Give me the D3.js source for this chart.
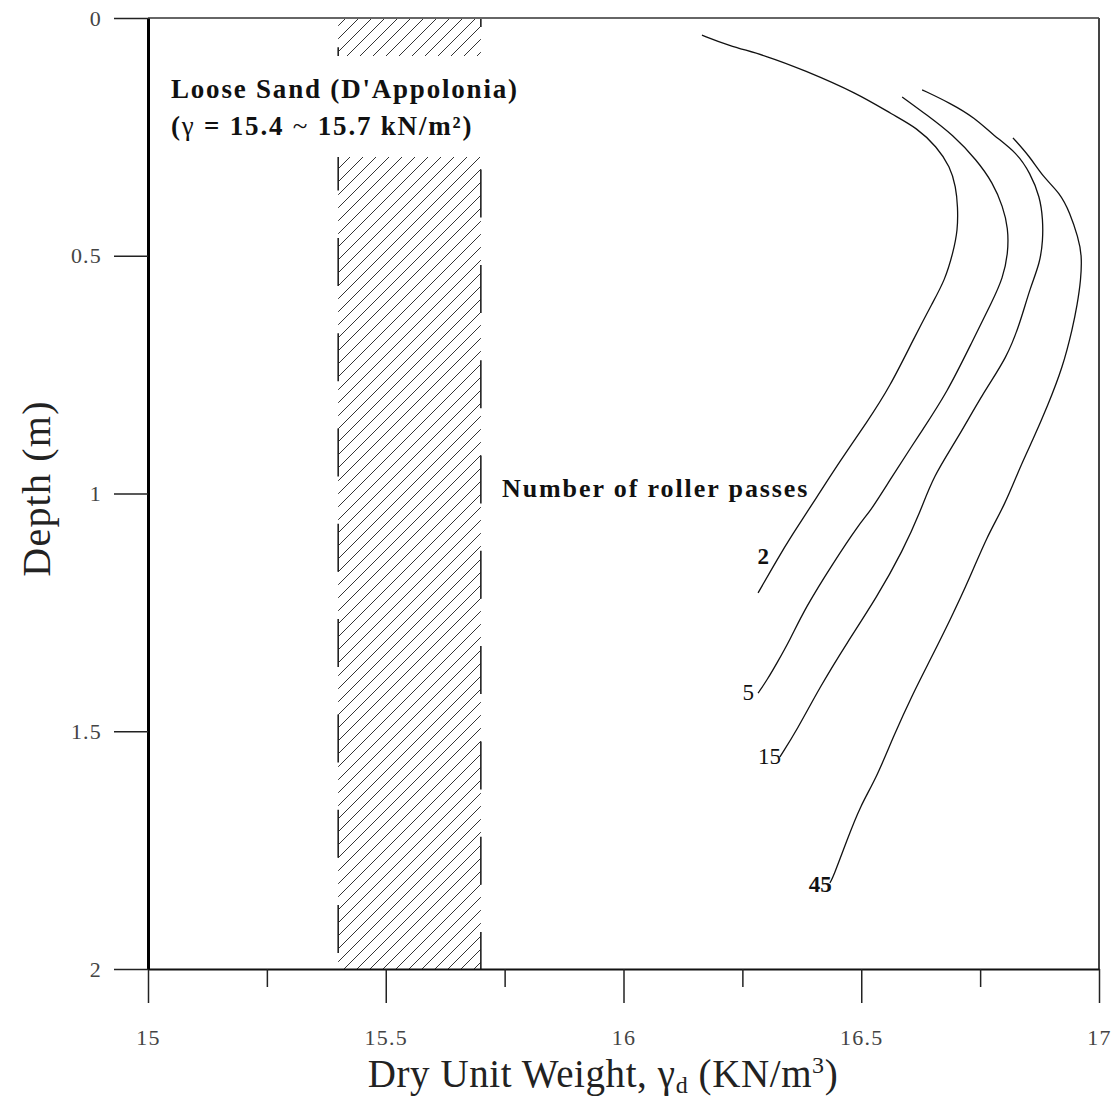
<!DOCTYPE html>
<html>
<head>
<meta charset="utf-8">
<script src="https://cdn.jsdelivr.net/npm/d3@7"></script>
<style>
  html, body { margin: 0; padding: 0; background: #fff; }
  svg { display: block; }
</style>
</head>
<body>
<svg id="chart" width="1118" height="1101"></svg>
<script>
// ---------- data ----------
const xTicksMajor = [15, 15.5, 16, 16.5, 17];
const xTicksMinor = [15.25, 15.75, 16.25, 16.75];
const yTicks = [0, 0.5, 1, 1.5, 2];
const bandRange = [15.4, 15.7];            // loose sand range (kN/m3)

const passes = ["2", "5", "15", "45"];
// [dry unit weight, depth]
const curve2 = [[16.165,0.036],[16.218,0.057],[16.302,0.080],[16.378,0.109],[16.491,0.158],[16.567,0.204],[16.617,0.231],[16.659,0.271],[16.687,0.313],[16.699,0.355],[16.703,0.397],[16.703,0.446],[16.693,0.494],[16.676,0.551],[16.651,0.597],[16.609,0.677],[16.560,0.776],[16.512,0.850],[16.455,0.932],[16.407,1.007],[16.350,1.094],[16.325,1.136],[16.283,1.209]];
const curve5 = [[16.586,0.166],[16.638,0.204],[16.693,0.246],[16.743,0.299],[16.777,0.347],[16.798,0.397],[16.809,0.442],[16.809,0.494],[16.798,0.547],[16.775,0.597],[16.735,0.677],[16.680,0.789],[16.624,0.873],[16.560,0.972],[16.518,1.039],[16.497,1.062],[16.441,1.146],[16.382,1.241],[16.350,1.308],[16.323,1.356],[16.302,1.392],[16.283,1.420]];
const curve15 = [[16.628,0.151],[16.687,0.179],[16.739,0.210],[16.777,0.246],[16.828,0.284],[16.855,0.326],[16.876,0.376],[16.882,0.425],[16.882,0.467],[16.876,0.515],[16.855,0.568],[16.834,0.641],[16.807,0.713],[16.756,0.789],[16.701,0.887],[16.651,0.965],[16.624,1.039],[16.588,1.119],[16.533,1.218],[16.470,1.314],[16.413,1.407],[16.365,1.497],[16.329,1.554]];
const curve45 = [[16.819,0.252],[16.855,0.292],[16.882,0.334],[16.918,0.368],[16.939,0.410],[16.956,0.461],[16.964,0.498],[16.962,0.551],[16.954,0.604],[16.945,0.650],[16.924,0.734],[16.891,0.818],[16.861,0.887],[16.834,0.944],[16.802,1.024],[16.764,1.091],[16.729,1.176],[16.687,1.266],[16.645,1.350],[16.609,1.420],[16.567,1.512],[16.533,1.596],[16.497,1.659],[16.470,1.729],[16.441,1.807],[16.434,1.819]];
const curves = [curve2, curve5, curve15, curve45];

// ---------- layout ----------
const W = 1118, H = 1101;
const margin = {top: 18, right: 19, bottom: 132, left: 148};
const svg = d3.select("#chart");
const x = d3.scaleLinear().domain([15, 17]).range([margin.left, W - margin.right]);
const y = d3.scaleLinear().domain([0, 2]).range([margin.top, H - margin.bottom]);
const serif = "'Liberation Serif', 'DejaVu Serif', serif";

// hatch pattern
const defs = svg.append("defs");
const pat = defs.append("pattern").attr("id", "hatch")
  .attr("patternUnits", "userSpaceOnUse").attr("width", 13).attr("height", 13);
pat.append("path").attr("d", "M-2,2 L2,-2 M0,13 L13,0 M11,15 L15,11")
  .attr("stroke", "#333").attr("stroke-width", 1);

// band
const bx0 = x(bandRange[0]), bx1 = x(bandRange[1]);
svg.append("rect").attr("x", bx0).attr("y", y(0)).attr("width", bx1 - bx0)
  .attr("height", y(2) - y(0)).attr("fill", "url(#hatch)");
svg.append("line").attr("x1", bx0).attr("x2", bx0).attr("y1", y(0)).attr("y2", y(2))
  .attr("stroke", "#222").attr("stroke-width", 1.6)
  .attr("stroke-dasharray", "48 47.3").attr("stroke-dashoffset", 66);
svg.append("line").attr("x1", bx1).attr("x2", bx1).attr("y1", y(0)).attr("y2", y(2))
  .attr("stroke", "#222").attr("stroke-width", 1.6)
  .attr("stroke-dasharray", "48 47.3").attr("stroke-dashoffset", 39);

// annotation with white background
const ann = svg.append("g").attr("font-family", serif).attr("font-weight", "bold")
  .attr("font-size", 27).attr("fill", "#111").attr("letter-spacing", 1.8);
ann.append("text").attr("x", 171).attr("y", 98).text("Loose Sand (D'Appolonia)");
const t2 = ann.append("text").attr("x", 171).attr("y", 135);
t2.append("tspan").text("(");
t2.append("tspan").attr("font-weight", "normal").text("γ");
t2.append("tspan").text(" = 15.4 ");
t2.append("tspan").attr("font-weight", "normal").text("~");
t2.append("tspan").text(" 15.7 kN/m²)");
const bb = ann.node().getBBox();
svg.insert("rect", "g").attr("x", bb.x - 4).attr("y", 56)
  .attr("width", bb.width + 14).attr("height", 101).attr("fill", "#fff");

// frame top/right
svg.append("line").attr("x1", x(15)).attr("x2", x(17)).attr("y1", y(0)).attr("y2", y(0))
  .attr("stroke", "#666").attr("stroke-width", 2);
svg.append("line").attr("x1", x(17)).attr("x2", x(17)).attr("y1", y(0)).attr("y2", y(2))
  .attr("stroke", "#444").attr("stroke-width", 2);

// curves
const line = d3.line().x(d => x(d[0])).y(d => y(d[1])).curve(d3.curveBasis);
svg.append("g").selectAll("path").data(curves).join("path")
  .attr("d", line).attr("fill", "none").attr("stroke", "#111").attr("stroke-width", 1.3);

// curve labels
const labelWeight = ["bold", "normal", "normal", "bold"];
const labelDx = [9, -6, -1, 0];
const labelDy = [-36, 0, 0, 2];
svg.append("g").attr("font-family", serif).attr("font-size", 23).attr("fill", "#111")
  .attr("text-anchor", "end")
  .selectAll("text").data(curves).join("text")
  .attr("x", (d) => x(d[d.length - 1][0]) + 2)
  .attr("y", (d) => y(d[d.length - 1][1]) + 7)
  .attr("dx", (d, i) => labelDx[i])
  .attr("dy", (d, i) => labelDy[i])
  .attr("font-weight", (d, i) => labelWeight[i])
  .text((d, i) => passes[i]);

svg.append("text").attr("x", 502).attr("y", 497).attr("font-family", serif)
  .attr("font-weight", "bold").attr("font-size", 26).attr("letter-spacing", 1.9)
  .attr("fill", "#111").text("Number of roller passes");

// axes
const gx = svg.append("g").attr("transform", `translate(0,${y(2)})`)
  .call(d3.axisBottom(x).tickValues(xTicksMajor).tickSize(34).tickSizeOuter(0)
    .tickPadding(26).tickFormat(d3.format("")));
const gxm = svg.append("g").attr("transform", `translate(0,${y(2)})`)
  .call(d3.axisBottom(x).tickValues(xTicksMinor).tickSize(18).tickSizeOuter(0).tickFormat(""));
gxm.select(".domain").remove();
const gy = svg.append("g").attr("transform", `translate(${x(15)},0)`)
  .call(d3.axisLeft(y).tickValues(yTicks).tickSize(34).tickSizeOuter(0)
    .tickPadding(12).tickFormat(d3.format("")));

[gx, gxm, gy].forEach(g => {
  g.selectAll("text").attr("font-family", serif).attr("font-size", 22)
    .attr("fill", "#444").attr("letter-spacing", 1.2);
  g.selectAll(".tick line").attr("stroke", "#222").attr("stroke-width", 1.5);
});
gx.select(".domain").attr("stroke", "#111").attr("stroke-width", 2);
gy.select(".domain").attr("stroke", "#000").attr("stroke-width", 3);

// axis titles
const xt = svg.append("text").attr("x", 603).attr("y", 1087).attr("text-anchor", "middle")
  .attr("font-family", serif).attr("font-size", 39).attr("letter-spacing", 0.6).attr("fill", "#222");
xt.append("tspan").text("Dry Unit Weight, γ");
xt.append("tspan").attr("font-size", 24).attr("dy", 6).text("d");
xt.append("tspan").attr("dy", -6).text(" (KN/m");
xt.append("tspan").attr("font-size", 24).attr("dy", -14).text("3");
xt.append("tspan").attr("dy", 14).text(")");

svg.append("text").attr("transform", `translate(50,${(y(0) + y(2)) / 2 - 5}) rotate(-90)`)
  .attr("text-anchor", "middle").attr("font-family", serif).attr("font-size", 40)
  .attr("letter-spacing", 1.2).attr("fill", "#222").text("Depth (m)");
</script>
</body>
</html>
